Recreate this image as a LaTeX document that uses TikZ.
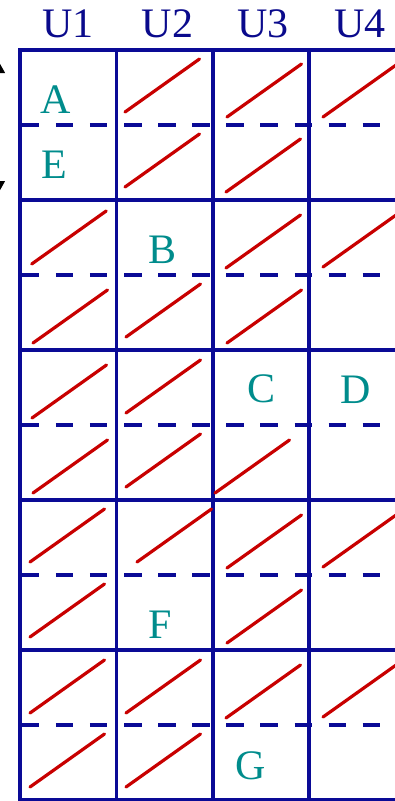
\documentclass[tikz,border=0pt]{standalone}
\usepackage{fontspec}
\setmainfont{Liberation Serif}
\usetikzlibrary{arrows.meta}
\definecolor{gridblue}{RGB}{10,10,150}
\definecolor{hdrblue}{RGB}{10,10,140}
\definecolor{tealc}{RGB}{0,140,140}
\definecolor{redline}{RGB}{200,0,0}
\begin{document}
\begin{tikzpicture}[x=1pt,y=-1pt,
  hline/.style={gridblue,line width=4.5pt},
  vline/.style={gridblue,line width=3.5pt},
  dline/.style={gridblue,line width=4pt,dash pattern=on 17.5pt off 16.6pt},
  diag/.style={redline,line width=3.2pt,line cap=round},
  hdr/.style={text=hdrblue,font=\fontsize{42}{42}\selectfont,anchor=base,inner sep=0pt},
  lbl/.style={text=tealc,font=\fontsize{42}{42}\selectfont,anchor=base,inner sep=0pt},
  tip/.style={-{Triangle[length=11pt,width=12pt]}}]
\useasboundingbox (0,0) rectangle (395,801);
\clip (0,0) rectangle (395,801);
% dashed middle lines
\foreach \y in {125,275,425,575,725} \draw[dline] (21.7,\y) -- (400,\y);
% vertical grid lines
\foreach \x in {20,116.4,212.8,309.2} \draw[vline] (\x,48) -- (\x,802);
% horizontal grid lines
\foreach \y in {50,200,350,500,650,800} \draw[hline] (18.3,\y) -- (400,\y);
% red diagonals (lower-left start points)
\foreach \x/\y in {125/112,227/117,323/117,
                   125/187,226/192,
                   31.7/264,226/268,323/267,
                   33/343,126/337,227/343,
                   32/418,126/413,
                   33/493,126/487,215/493,
                   30/562,137/562,227/568,323/567,
                   30/637,227/643,
                   30/713,126/713,226/718,323/717,
                   30/787,126/787}
  \draw[diag] (\x,\y) -- ++(74.5,-53);
% headers
\node[hdr] (u1) at (68.3,37) {U1};
\node[hdr] (u2) at (167.5,37) {U2};
\node[hdr] (u3) at (263.3,37) {U3};
\node[hdr] (u4) at (360,37) {U4};
% labels
\node[lbl] (A) at (56,113) {A};
\node[lbl] (E) at (54,178) {E};
\node[lbl] (B) at (162.5,263) {B};
\node[lbl] (C) at (261.5,402) {C};
\node[lbl] (D) at (356,403) {D};
\node[lbl] (F) at (160.5,638) {F};
\node[lbl] (G) at (251,779) {G};
% left double arrow (mostly outside the frame)
\coordinate (arrtop) at (-1,62);
\coordinate (arrbot) at (-1,192);
\coordinate (arrmid) at (-1,127);
\draw[tip,line width=1pt] (arrmid) -- (arrtop);
\draw[tip,line width=1pt] (arrmid) -- (arrbot);
\end{tikzpicture}
\end{document}
